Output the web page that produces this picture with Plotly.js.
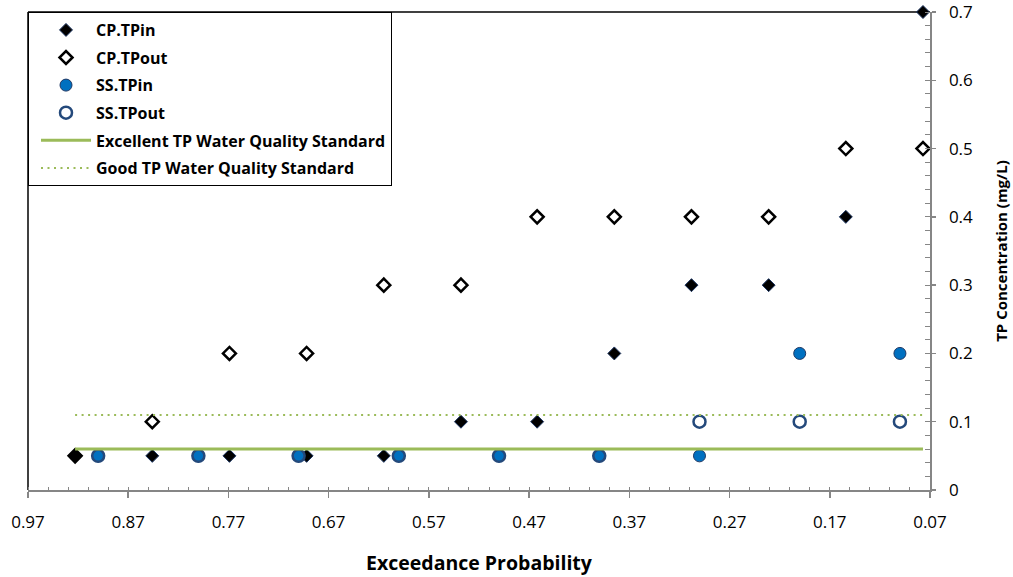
<!DOCTYPE html>
<html><head><meta charset="utf-8">
<script src="https://cdn.plot.ly/plotly-3.0.1.min.js"></script>
<style>body{margin:0;background:#fff}#chart{width:1013px;height:577px}</style>
</head><body><div id="chart"></div>
<script>
// Exceedance probabilities
const cpProb = [0.923, 0.846, 0.769, 0.692, 0.615, 0.538, 0.462, 0.385, 0.308, 0.231, 0.154, 0.077];
const cpTPin = [0.05, 0.05, 0.05, 0.05, 0.05, 0.1, 0.1, 0.2, 0.3, 0.3, 0.4, 0.7];
const cpTPout = [0.05, 0.1, 0.2, 0.2, 0.3, 0.3, 0.4, 0.4, 0.4, 0.4, 0.5, 0.5];
const ssProb = [0.9, 0.8, 0.7, 0.6, 0.5, 0.4, 0.3, 0.2, 0.1];
const ssTPin = [0.05, 0.05, 0.05, 0.05, 0.05, 0.05, 0.05, 0.2, 0.2];
const ssTPout = [0.05, 0.05, 0.05, 0.05, 0.05, 0.05, 0.1, 0.1, 0.1];
const stdProb = [0.923, 0.077];
const excellentTP = [0.06, 0.06];
const goodTP = [0.11, 0.11];
const yTickVals = [0, 0.1, 0.2, 0.3, 0.4, 0.5, 0.6, 0.7];
const yTickText = ['0', '0.1', '0.2', '0.3', '0.4', '0.5', '0.6', '0.7'];
const seriesNames = ['CP.TPin', 'CP.TPout', 'SS.TPin', 'SS.TPout',
  'Excellent TP Water Quality Standard', 'Good TP Water Quality Standard'];

const F = '"Open Sans", sans-serif';
const traces = [
  {x: cpProb, y: cpTPin, name: seriesNames[0], mode: 'markers', type: 'scatter', legendgroup: 'a', cliponaxis: false,
   marker: {symbol: 'diamond', size: 10, color: '#000000', line: {color: '#1F3864', width: 1}}},
  {x: cpProb, y: cpTPout, name: seriesNames[1], mode: 'markers', type: 'scatter', legendgroup: 'b', cliponaxis: false,
   marker: {symbol: 'diamond-open', size: 10, color: '#000000', line: {width: 2.5}}},
  {x: ssProb, y: ssTPin, name: seriesNames[2], mode: 'markers', type: 'scatter', legendgroup: 'c', cliponaxis: false,
   marker: {symbol: 'circle', size: 12, color: '#0070C0', line: {color: '#1F3864', width: 1}}},
  {x: ssProb, y: ssTPout, name: seriesNames[3], mode: 'markers', type: 'scatter', legendgroup: 'd', cliponaxis: false,
   marker: {symbol: 'circle-open', size: 12, color: '#24497B', line: {width: 2.5}}},
  {x: stdProb, y: excellentTP, name: seriesNames[4], mode: 'lines', type: 'scatter', legendgroup: 'e',
   line: {color: '#9BBB59', width: 3}},
  {x: stdProb, y: goodTP, name: seriesNames[5], mode: 'lines', type: 'scatter', legendgroup: 'f',
   line: {color: '#9BBB59', width: 2, dash: '2px,4.5px'}}
];

const layout = {
  width: 1013, height: 577,
  margin: {l: 28, r: 83, t: 12, b: 87},
  paper_bgcolor: '#fff', plot_bgcolor: '#fff',
  font: {family: F, size: 14, color: '#000'},
  showlegend: true,
  legend: {x: 0, y: 1, xanchor: 'left', yanchor: 'top', bgcolor: '#fff',
    bordercolor: '#000', borderwidth: 1, font: {family: F, size: 16, color: '#000', weight: 'bold'},
    traceorder: 'grouped', tracegroupgap: 3.8, itemwidth: 50, indentation: 7},
  xaxis: {range: [0.97, 0.07], tick0: 0.07, dtick: 0.1, tickformat: '.2f',
    ticks: 'outside', ticklen: 6, tickcolor: '#868686', tickwidth: 1.5,
    showline: true, linecolor: '#868686', linewidth: 1.5, showgrid: false, zeroline: false,
    minor: {tick0: 0.07, dtick: 0.02, ticks: 'inside', ticklen: 3, tickcolor: '#868686', tickwidth: 1},
    tickfont: {family: F, size: 17, color: '#000'}, ticklabelstandoff: 10, ticklabeloverflow: 'allow',
    title: {text: 'Exceedance Probability', font: {family: F, size: 19.5, color: '#000', weight: 'bold'}, standoff: 24}},
  xaxis2: {overlaying: 'x', anchor: 'y', range: [0.97, 0.07], tick0: 0.07, dtick: 0.1,
    ticks: 'inside', ticklen: 4, tickcolor: '#868686', tickwidth: 1.5,
    showticklabels: false, showline: false, showgrid: false, zeroline: false},
  yaxis: {side: 'right', range: [0, 0.7], tickmode: 'array', tickvals: yTickVals, ticktext: yTickText,
    ticks: 'outside', ticklen: 4, tickcolor: '#868686', tickwidth: 1.5,
    showline: true, linecolor: '#868686', linewidth: 1.5, showgrid: false, zeroline: false,
    minor: {tick0: 0, dtick: 0.02, ticks: 'inside', ticklen: 5, tickcolor: '#868686', tickwidth: 1},
    tickfont: {family: F, size: 17, color: '#000'}, ticklabelstandoff: 10, ticklabeloverflow: 'allow',
    title: {text: 'TP Concentration (mg/L)', font: {family: F, size: 15, color: '#000', weight: 'bold'}, standoff: 24}},
  yaxis2: {overlaying: 'y', side: 'right', anchor: 'x', range: [0, 0.7], tickmode: 'array', tickvals: yTickVals,
    ticks: 'inside', ticklen: 5, tickcolor: '#868686', tickwidth: 1.5,
    showticklabels: false, showline: false, showgrid: false, zeroline: false},
  shapes: [
    {type: 'line', xref: 'paper', yref: 'paper', x0: 0, x1: 1, y0: 1, y1: 1, line: {color: '#000', width: 1.5}, layer: 'below'},
    {type: 'line', xref: 'paper', yref: 'paper', x0: 0, x1: 0, y0: 0, y1: 1, line: {color: '#000', width: 1.5}, layer: 'below'}
  ]
};

Plotly.newPlot('chart', traces, layout, {displayModeBar: false, staticPlot: true});
</script></body></html>
